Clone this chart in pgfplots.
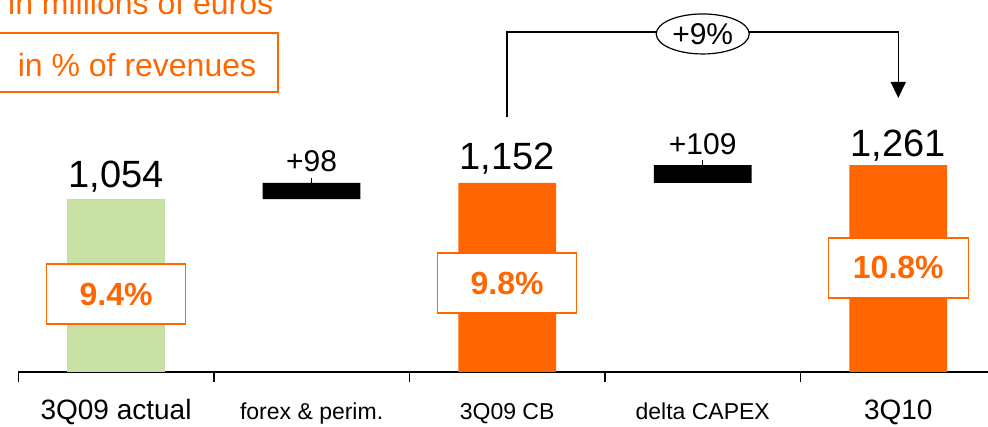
\documentclass[border=0pt]{standalone}
\usepackage{pgfplots}
\pgfplotsset{compat=1.18}
\usepackage{fontspec}
\setmainfont{Liberation Sans}
\usetikzlibrary{shapes.geometric,arrows.meta}
\definecolor{myorange}{RGB}{255,102,0}
\definecolor{mygreen}{RGB}{201,224,165}
\newcommand{\fs}[1]{\fontsize{#1}{#1}\selectfont}
\begin{document}
\begin{tikzpicture}[x=1pt,y=1pt]
\useasboundingbox (0,0) rectangle (988,427);
\clip (0,0) rectangle (988,427);
\node[anchor=base west, text=myorange, font=\fs{32}, inner sep=0pt] at (8,412) {in millions of euros};
\draw[myorange, line width=1.5pt] (-1,335) rectangle (278,394);
\node[text=myorange, font=\fs{32}, inner sep=0pt] at (137,362) {in \% of revenues};
\begin{axis}[
  at={(18.25pt,55pt)}, anchor=south west,
  width=970pt, height=372pt, scale only axis,
  xmin=-0.5, xmax=4.46, ymin=0, ymax=2267,
  enlargelimits=false, clip=false,
  ybar stacked, bar width=0.5,
  axis x line*=bottom, axis y line=none,
  x axis line style={-, line width=1.5pt},
  xtick={0,1,2,3,4},
  xticklabels={{\fs{28}3Q09 actual},{\fs{23}forex \& perim.},{\fs{23}3Q09 CB},{\fs{23}delta CAPEX},{\fs{28}3Q10}},
  major tick length=0pt,
  minor xtick={-0.5,0.5,1.5,2.5,3.5},
  minor tick length=10pt,
  xtick align=outside,
  every tick/.style={black, line width=1.5pt},
  xticklabel style={anchor=base, yshift=-48pt, inner sep=0pt},
  ytick=\empty,
]
\addplot[draw=none, fill=none] coordinates {(0,0) (1,1054) (2,0) (3,1152) (4,0)};
\addplot[draw=none, fill=mygreen] coordinates {(0,1054) (1,0) (2,0) (3,0) (4,0)};
\addplot[draw=none, fill=black] coordinates {(0,0) (1,98) (2,0) (3,109) (4,0)};
\addplot[draw=none, fill=myorange] coordinates {(0,0) (1,0) (2,1152) (3,0) (4,1261)};

\coordinate (t0) at (axis cs:0,1054);
\coordinate (t1) at (axis cs:1,1152);
\coordinate (t2) at (axis cs:2,1152);
\coordinate (t3) at (axis cs:3,1261);
\coordinate (t4) at (axis cs:4,1261);
\coordinate (p0) at (axis cs:0,475);
\coordinate (p2) at (axis cs:2,542);
\coordinate (p4) at (axis cs:4,634);
\coordinate (a0) at (axis cs:2,1554);
\coordinate (a1) at (axis cs:4,2072);
\coordinate (a2) at (axis cs:4,1670);
\coordinate (e)  at (axis cs:3,2060);
\end{axis}

% value labels
\node[anchor=base, font=\fs{38}, inner sep=0pt] at ([yshift=12pt]t0) {1,054};
\node[anchor=base, font=\fs{38}, inner sep=0pt] at ([yshift=13pt]t2) {1,152};
\node[anchor=base, font=\fs{38}, inner sep=0pt] at ([yshift=9pt]t4) {1,261};
\node[anchor=base, font=\fs{30}, inner sep=0pt] at ([yshift=11pt]t1) {+98};
\node[anchor=base, font=\fs{30}, inner sep=0pt] at ([yshift=11pt]t3) {+109};
\draw[line width=0.6pt] (t1) -- ++(0,5);
\draw[line width=0.6pt] (t3) -- ++(0,5);

% percentage boxes
\node[draw=myorange, line width=1.5pt, fill=white, minimum width=139pt, minimum height=60pt, text=myorange, font=\bfseries\fs{32}] at (p0) {9.4\%};
\node[draw=myorange, line width=1.5pt, fill=white, minimum width=139pt, minimum height=60pt, text=myorange, font=\bfseries\fs{32}] at (p2) {9.8\%};
\node[draw=myorange, line width=1.5pt, fill=white, minimum width=140pt, minimum height=60pt, text=myorange, font=\bfseries\fs{32}] at (p4) {10.8\%};

% growth arrow
\draw[line width=1.5pt, -{Triangle[width=15pt,length=16pt]}] (a0) |- (a1) -- (a2);
\node[ellipse, draw=black, line width=1.2pt, fill=white, minimum width=93pt, minimum height=40pt, inner sep=0pt, font=\fs{30}] at (e) {+9\%};
\end{tikzpicture}
\end{document}
